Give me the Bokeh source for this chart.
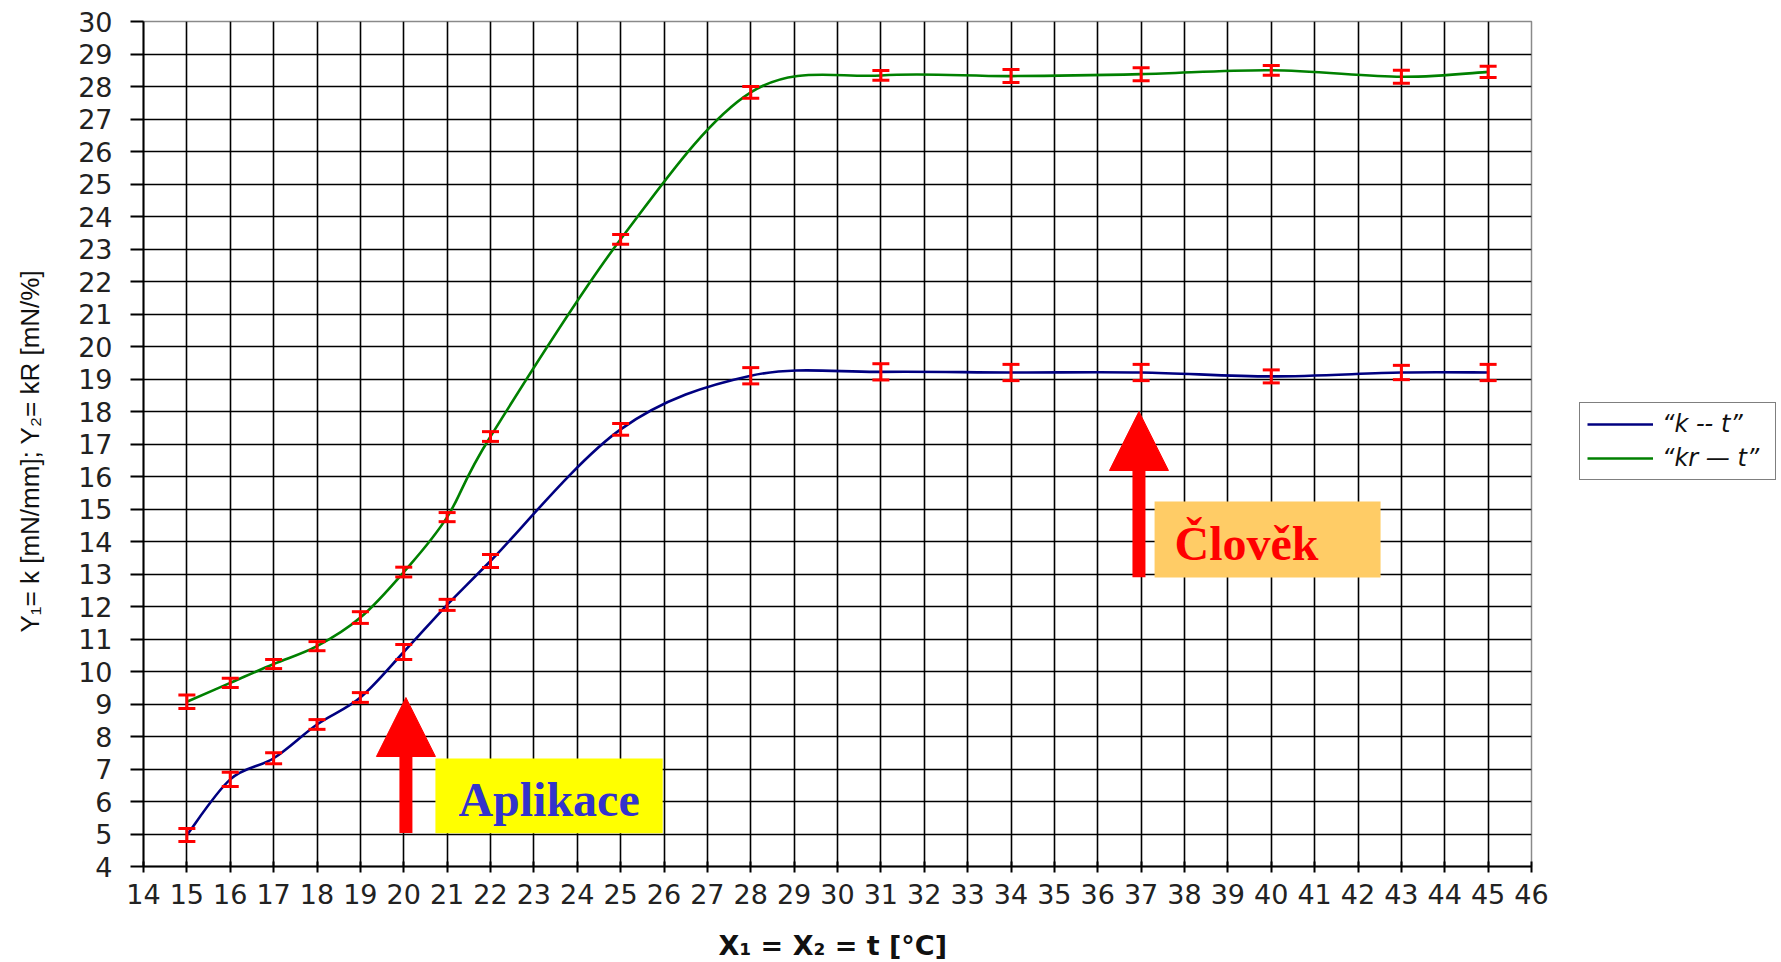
import math

from bokeh.plotting import figure
from bokeh.layouts import row
from bokeh.models import (Range1d, FixedTicker, ColumnDataSource, Whisker, TeeHead,
                          Legend, LegendItem, Label, BoxAnnotation, Arrow, NormalHead)
from bokeh.embed import file_html
from bokeh.resources import INLINE

# ---- data -------------------------------------------------------------
temperature = [15, 16, 17, 18, 19, 20, 21, 22, 25, 28, 31, 34, 37, 40, 43, 45]

k_values = [4.97, 6.68, 7.33, 8.37, 9.20, 10.60, 12.05, 13.40, 17.45, 19.10,
            19.22, 19.20, 19.20, 19.08, 19.20, 19.20]
k_errors = [0.20, 0.22, 0.17, 0.15, 0.15, 0.23, 0.17, 0.20, 0.18, 0.25,
            0.25, 0.25, 0.25, 0.20, 0.22, 0.25]

kr_values = [9.07, 9.65, 10.23, 10.78, 11.66, 13.06, 14.75, 17.23, 23.30, 27.82,
             28.34, 28.32, 28.38, 28.50, 28.30, 28.45]
kr_errors = [0.21, 0.14, 0.14, 0.14, 0.18, 0.15, 0.14, 0.15, 0.15, 0.18,
             0.15, 0.20, 0.20, 0.15, 0.20, 0.17]

x_ticks = list(range(14, 47))
y_ticks = list(range(4, 31))

series_labels = ["\u201ck -- t\u201d", "\u201ckr \u2014 t\u201d"]
series_colors = ["#000080", "#008000"]

x_title = "X\u2081 = X\u2082 = t  [\u00b0C]"
y_title = "Y\u2081= k  [mN/mm]; Y\u2082= kR  [mN/%]"


# ---- helpers ----------------------------------------------------------
def smooth_segments(xs, ys):
    """Cubic Bezier pieces (Catmull-Rom style) passing through every point."""
    n = len(xs)
    seg = dict(x0=[], y0=[], x1=[], y1=[], cx0=[], cy0=[], cx1=[], cy1=[])
    for i in range(n - 1):
        a = max(i - 1, 0)
        d = min(i + 2, n - 1)
        seg["x0"].append(xs[i]); seg["y0"].append(ys[i])
        seg["x1"].append(xs[i + 1]); seg["y1"].append(ys[i + 1])
        seg["cx0"].append(xs[i] + (xs[i + 1] - xs[a]) / 6)
        seg["cy0"].append(ys[i] + (ys[i + 1] - ys[a]) / 6)
        seg["cx1"].append(xs[i + 1] - (xs[d] - xs[i]) / 6)
        seg["cy1"].append(ys[i + 1] - (ys[d] - ys[i]) / 6)
    return seg


# ---- main chart -------------------------------------------------------
p = figure(frame_width=1388, frame_height=845, output_backend="svg",
           toolbar_location=None, x_range=Range1d(14, 46), y_range=Range1d(4, 30),
           min_border_left=143, min_border_right=20, min_border_top=21,
           min_border_bottom=96)
p.background_fill_color = "white"
p.border_fill_color = "white"
p.outline_line_color = "#8a8a8a"
p.outline_line_width = 1.5

for ax in (p.xaxis, p.yaxis):
    ax.axis_line_color = "black"
    ax.axis_line_width = 2
    ax.major_tick_line_color = "black"
    ax.major_tick_line_width = 2
    ax.minor_tick_line_color = None
    ax.major_label_text_font = "DejaVu Sans"
    ax.major_label_text_color = "#222222"
    ax.axis_label_text_color = "#111111"

p.xaxis.ticker = FixedTicker(ticks=x_ticks)
p.xaxis.major_tick_in = 5
p.xaxis.major_tick_out = 6
p.xaxis.major_label_standoff = 11
p.xaxis.major_label_text_font_size = "27px"
p.xaxis.axis_label = x_title
p.xaxis.axis_label_text_font = "DejaVu Sans"
p.xaxis.axis_label_text_font_style = "bold"
p.xaxis.axis_label_text_font_size = "27px"
p.xaxis.axis_label_standoff = 23

p.yaxis.ticker = FixedTicker(ticks=y_ticks)
p.yaxis.major_tick_in = 0
p.yaxis.major_tick_out = 13
p.yaxis.major_label_standoff = 18
p.yaxis.major_label_text_font_size = "27px"
p.yaxis.axis_label = y_title
p.yaxis.axis_label_text_font = "Liberation Sans"
p.yaxis.axis_label_text_font_style = "normal"
p.yaxis.axis_label_text_font_size = "26px"
p.yaxis.axis_label_standoff = 30

p.xgrid.ticker = FixedTicker(ticks=x_ticks[1:])
p.ygrid.ticker = FixedTicker(ticks=y_ticks[1:-1])
for g in (p.xgrid, p.ygrid):
    g.grid_line_color = "black"
    g.grid_line_width = 1.6

# smoothed curves
for color, vals in zip(series_colors, [k_values, kr_values]):
    src = ColumnDataSource(smooth_segments(temperature, vals))
    p.bezier(x0="x0", y0="y0", x1="x1", y1="y1", cx0="cx0", cy0="cy0",
             cx1="cx1", cy1="cy1", source=src, line_color=color, line_width=2.6)

# error bars
for vals, errs in ((k_values, k_errors), (kr_values, kr_errors)):
    esrc = ColumnDataSource(dict(x=temperature,
                                 upper=[v + e for v, e in zip(vals, errs)],
                                 lower=[v - e for v, e in zip(vals, errs)]))
    p.add_layout(Whisker(source=esrc, base="x", upper="upper", lower="lower",
                         dimension="height", line_color="#ff0000", line_width=3,
                         level="annotation",
                         upper_head=TeeHead(size=17, line_color="#ff0000", line_width=3),
                         lower_head=TeeHead(size=17, line_color="#ff0000", line_width=3)))

# callouts
p.add_layout(BoxAnnotation(left=20.73, right=25.97, bottom=5.02, top=7.32,
                           fill_color="#ffff00", fill_alpha=1, line_color=None,
                           level="annotation"))
p.add_layout(BoxAnnotation(left=37.31, right=42.52, bottom=12.89, top=15.23,
                           fill_color="#ffcc66", fill_alpha=1, line_color=None,
                           level="annotation"))
p.add_layout(Arrow(end=NormalHead(size=59, fill_color="#ff0000", line_color="#ff0000"),
                   x_start=20.05, y_start=5.03, x_end=20.05, y_end=9.2,
                   line_color="#ff0000", line_width=13))
p.add_layout(Arrow(end=NormalHead(size=59, fill_color="#ff0000", line_color="#ff0000"),
                   x_start=36.95, y_start=12.9, x_end=36.95, y_end=18.0,
                   line_color="#ff0000", line_width=13))
p.add_layout(Label(x=23.35, y=6.07, text="Aplikace", text_align="center",
                   text_baseline="alphabetic", text_font="Liberation Serif",
                   text_font_style="bold", text_font_size="48px", text_color="#3333cc"))
p.add_layout(Label(x=39.43, y=13.95, text="Člověk", text_align="center",
                   text_baseline="alphabetic", text_font="Liberation Serif",
                   text_font_style="bold", text_font_size="48px", text_color="#ff0000"))

# ---- legend strip to the right of the chart ---------------------------
key = figure(width=230, height=962, output_backend="svg", toolbar_location=None,
             x_range=Range1d(0, 1), y_range=Range1d(0, 1),
             x_axis_type=None, y_axis_type=None, min_border=0)
key.grid.visible = False
key.outline_line_color = None
key.background_fill_color = "white"
key.border_fill_color = "white"

items = []
for label, color in zip(series_labels, series_colors):
    # legend handles only: positioned outside the strip's visible range
    handle = key.line(x=[2, 3], y=[2, 2], line_color=color, line_width=2.6)
    items.append(LegendItem(label=label, renderers=[handle]))

legend = Legend(items=items, location=(28, 385), margin=0, padding=7,
                spacing=6, glyph_width=66, glyph_height=28, label_standoff=9,
                label_width=106, label_text_font="DejaVu Sans",
                label_text_font_style="italic", label_text_font_size="24px",
                label_text_color="#111111", border_line_color="black",
                border_line_width=1.5, background_fill_color="white",
                background_fill_alpha=1)
key.add_layout(legend)

layout = row(p, key, spacing=0)
open("out.html", "w").write(file_html(layout, INLINE))
